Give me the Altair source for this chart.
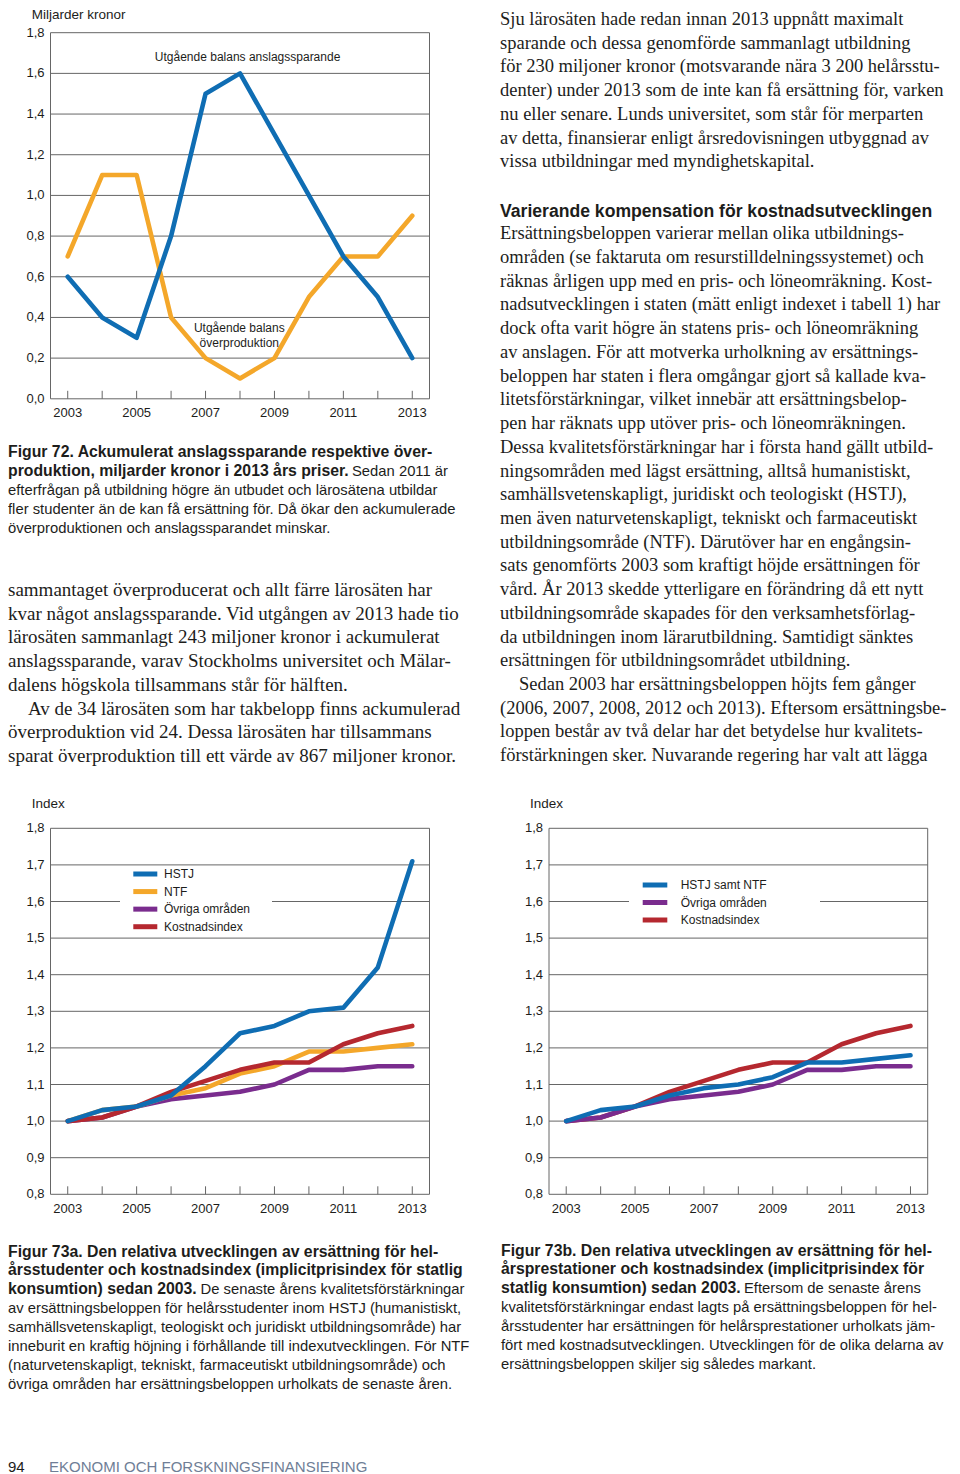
import altair as alt
import pandas as pd

# ---------------------------------------------------------------- page helpers
M = 8  # page margin of the html body


def P(v):
    return v - M


SERIF = "Liberation Serif"
SANS = "Liberation Sans"
INK = "#1d1d1b"
GRID = "#666666"
FOOT = "#6f7e96"

# ---------------------------------------------------------------- data
YEARS = [2003, 2004, 2005, 2006, 2007, 2008, 2009, 2010, 2011, 2012, 2013]
XLABEL_YEARS = [2003, 2005, 2007, 2009, 2011, 2013]

# Figur 72 (miljarder kronor)
F72_NAMES = ["Utgående balans överproduktion", "Utgående balans anslagssparande"]
F72_COLORS = ["#f4a72a", "#0f6db3"]
F72_OVERPROD = [0.70, 1.10, 1.10, 0.40, 0.20, 0.10, 0.20, 0.50, 0.70, 0.70, 0.90]
F72_SAVINGS = [0.60, 0.40, 0.30, 0.80, 1.50, 1.60, 1.30, 1.00, 0.70, 0.50, 0.20]
F72_YTICKS = [0.0, 0.2, 0.4, 0.6, 0.8, 1.0, 1.2, 1.4, 1.6, 1.8]
F72_NOTES = ["Utgående balans anslagssparande", "Utgående balans", "överproduktion"]
F72_NOTE_YEAR = [2008.22, 2007.98, 2007.98]
F72_NOTE_VALUE = [1.682, 0.346, 0.275]

# Figur 73a (index)
F73A_NAMES = ["HSTJ", "NTF", "Övriga områden", "Kostnadsindex"]
F73A_COLORS = ["#0f6db3", "#f4a72a", "#7a2c8e", "#b5282f"]
F73A_HSTJ = [1.00, 1.03, 1.04, 1.07, 1.15, 1.24, 1.26, 1.30, 1.31, 1.42, 1.71]
F73A_NTF = [1.00, 1.03, 1.04, 1.07, 1.09, 1.13, 1.15, 1.19, 1.19, 1.20, 1.21]
F73A_OVRIGA = [1.00, 1.01, 1.04, 1.06, 1.07, 1.08, 1.10, 1.14, 1.14, 1.15, 1.15]
F73A_KOSTNAD = [1.00, 1.01, 1.04, 1.08, 1.11, 1.14, 1.16, 1.16, 1.21, 1.24, 1.26]

# Figur 73b (index)
F73B_NAMES = ["HSTJ samt NTF", "Övriga områden", "Kostnadsindex"]
F73B_COLORS = ["#0f6db3", "#7a2c8e", "#b5282f"]
F73B_HSTJNTF = [1.00, 1.03, 1.04, 1.07, 1.09, 1.10, 1.12, 1.16, 1.16, 1.17, 1.18]
F73B_OVRIGA = [1.00, 1.01, 1.04, 1.06, 1.07, 1.08, 1.10, 1.14, 1.14, 1.15, 1.15]
F73B_KOSTNAD = [1.00, 1.01, 1.04, 1.08, 1.11, 1.14, 1.16, 1.16, 1.21, 1.24, 1.26]

INDEX_YTICKS = [0.8, 0.9, 1.0, 1.1, 1.2, 1.3, 1.4, 1.5, 1.6, 1.7, 1.8]

# ---------------------------------------------------------------- texts
RIGHT_P1 = [
    "Sju lärosäten hade redan innan 2013 uppnått maximalt",
    "sparande och dessa genomförde sammanlagt utbildning",
    "för 230 miljoner kronor (motsvarande nära 3 200 helårsstu-",
    "denter) under 2013 som de inte kan få ersättning för, varken",
    "nu eller senare. Lunds universitet, som står för merparten",
    "av detta, finansierar enligt årsredovisningen utbyggnad av",
    "vissa utbildningar med myndighetskapital.",
]
RIGHT_HEAD = ["Varierande kompensation för kostnadsutvecklingen"]
RIGHT_P2 = [
    "Ersättningsbeloppen varierar mellan olika utbildnings-",
    "områden (se faktaruta om resurstilldelningssystemet) och",
    "räknas årligen upp med en pris- och löneomräkning. Kost-",
    "nadsutvecklingen i staten (mätt enligt indexet i tabell 1) har",
    "dock ofta varit högre än statens pris- och löneomräkning",
    "av anslagen. För att motverka urholkning av ersättnings-",
    "beloppen har staten i flera omgångar gjort så kallade kva-",
    "litetsförstärkningar, vilket innebär att ersättningsbelop-",
    "pen har räknats upp utöver pris- och löneomräkningen.",
    "Dessa kvalitetsförstärkningar har i första hand gällt utbild-",
    "ningsområden med lägst ersättning, alltså humanistiskt,",
    "samhällsvetenskapligt, juridiskt och teologiskt (HSTJ),",
    "men även naturvetenskapligt, tekniskt och farmaceutiskt",
    "utbildningsområde (NTF). Därutöver har en engångsin-",
    "sats genomförts 2003 som kraftigt höjde ersättningen för",
    "vård. År 2013 skedde ytterligare en förändring då ett nytt",
    "utbildningsområde skapades för den verksamhetsförlag-",
    "da utbildningen inom lärarutbildning. Samtidigt sänktes",
    "ersättningen för utbildningsområdet utbildning.",
    "Sedan 2003 har ersättningsbeloppen höjts fem gånger",
    "(2006, 2007, 2008, 2012 och 2013). Eftersom ersättningsbe-",
    "loppen består av två delar har det betydelse hur kvalitets-",
    "förstärkningen sker. Nuvarande regering har valt att lägga",
]
LEFT_P = [
    "sammantaget överproducerat och allt färre lärosäten har",
    "kvar något anslagssparande. Vid utgången av 2013 hade tio",
    "lärosäten sammanlagt 243 miljoner kronor i ackumulerat",
    "anslagssparande, varav Stockholms universitet och Mälar-",
    "dalens högskola tillsammans står för hälften.",
    "Av de 34 lärosäten som har takbelopp finns ackumulerad",
    "överproduktion vid 24. Dessa lärosäten har tillsammans",
    "sparat överproduktion till ett värde av 867 miljoner kronor.",
]
CAP72_BOLD = [
    "Figur 72. Ackumulerat anslagssparande respektive över-",
    "produktion, miljarder kronor i 2013 års priser.",
]
CAP72_REG = [
    "Sedan 2011 är",
    "efterfrågan på utbildning högre än utbudet och lärosätena utbildar",
    "fler studenter än de kan få ersättning för. Då ökar den ackumulerade",
    "överproduktionen och anslagssparandet minskar.",
]
CAP73A_BOLD = [
    "Figur 73a. Den relativa utvecklingen av ersättning för hel-",
    "årsstudenter och kostnadsindex (implicitprisindex för statlig",
    "konsumtion) sedan 2003.",
]
CAP73A_REG = [
    "De senaste årens kvalitetsförstärkningar",
    "av ersättningsbeloppen för helårsstudenter inom HSTJ (humanistiskt,",
    "samhällsvetenskapligt, teologiskt och juridiskt utbildningsområde) har",
    "inneburit en kraftig höjning i förhållande till indexutvecklingen. För NTF",
    "(naturvetenskapligt, tekniskt, farmaceutiskt utbildningsområde) och",
    "övriga områden har ersättningsbeloppen urholkats de senaste åren.",
]
CAP73B_BOLD = [
    "Figur 73b. Den relativa utvecklingen av ersättning för hel-",
    "årsprestationer och kostnadsindex (implicitprisindex för",
    "statlig konsumtion) sedan 2003.",
]
CAP73B_REG = [
    "Eftersom de senaste årens",
    "kvalitetsförstärkningar endast lagts på ersättningsbeloppen för hel-",
    "årsstudenter har ersättningen för helårsprestationer urholkats jäm-",
    "fört med kostnadsutvecklingen. Utvecklingen för de olika delarna av",
    "ersättningsbeloppen skiljer sig således markant.",
]
FOOT_NUM = ["94"]
FOOT_TXT = ["EKONOMI OCH FORSKNINGSFINANSIERING"]


# ---------------------------------------------------------------- builders
def panel(series, names, colors, order, x_px, y_px, ydomain, yticks, xlab_dy, notes=None):
    xs = alt.Scale(domain=[2002.5, 2013.5], range=[P(x_px[0]), P(x_px[1])], nice=False, zero=False)
    ys = alt.Scale(domain=ydomain, range=[P(y_px[0]), P(y_px[1])], nice=False, zero=False)
    cs = alt.Scale(domain=names, range=colors)

    grid_df = pd.DataFrame({"v": yticks, "a": 2002.5, "b": 2013.5})
    grid = alt.Chart(grid_df).mark_rule(color=GRID, strokeWidth=1).encode(
        x=alt.X("a:Q", scale=xs, axis=None), x2="b:Q",
        y=alt.Y("v:Q", scale=ys, axis=None))
    side_df = pd.DataFrame({"a": [2002.5, 2013.5], "lo": ydomain[0], "hi": ydomain[1]})
    sides = alt.Chart(side_df).mark_rule(color=GRID, strokeWidth=1).encode(
        x=alt.X("a:Q", scale=xs, axis=None),
        y=alt.Y("lo:Q", scale=ys, axis=None), y2="hi:Q")
    tick_df = pd.DataFrame({"year": YEARS, "lo": ydomain[0]})
    ticks = alt.Chart(tick_df).mark_rule(color=GRID, strokeWidth=1, y2Offset=-8).encode(
        x=alt.X("year:Q", scale=xs, axis=None),
        y=alt.Y("lo:Q", scale=ys, axis=None), y2="lo:Q")

    lines = []
    for name in order:
        df = pd.DataFrame({"year": YEARS, "value": series[name], "serie": name})
        lines.append(
            alt.Chart(df).mark_line(strokeWidth=4.6, strokeJoin="round", strokeCap="round").encode(
                x=alt.X("year:Q", scale=xs, axis=None),
                y=alt.Y("value:Q", scale=ys, axis=None),
                color=alt.Color("serie:N", scale=cs, legend=None)))

    ylab_df = pd.DataFrame({"v": yticks, "a": 2002.5,
                            "lab": [f"{t:.1f}".replace(".", ",") for t in yticks]})
    ylabs = alt.Chart(ylab_df).mark_text(align="right", baseline="middle", dx=-6,
                                         font=SANS, fontSize=13, color=INK).encode(
        x=alt.X("a:Q", scale=xs, axis=None), y=alt.Y("v:Q", scale=ys, axis=None), text="lab:N")
    xl_df = pd.DataFrame({"year": XLABEL_YEARS, "lo": ydomain[0],
                          "lab": [str(y) for y in XLABEL_YEARS]})
    xlabs = alt.Chart(xl_df).mark_text(align="center", baseline="middle", dy=xlab_dy,
                                       font=SANS, fontSize=13, color=INK).encode(
        x=alt.X("year:Q", scale=xs, axis=None), y=alt.Y("lo:Q", scale=ys, axis=None), text="lab:N")
    layers = [grid, sides, ticks] + lines + [ylabs, xlabs]
    if notes is not None:
        ndf = pd.DataFrame({"t": notes[0], "year": notes[1], "value": notes[2]})
        layers.append(alt.Chart(ndf).mark_text(align="center", baseline="middle", font=SANS,
                                               fontSize=12, color=INK).encode(
            x=alt.X("year:Q", scale=xs, axis=None), y=alt.Y("value:Q", scale=ys, axis=None),
            text="t:N"))
    return alt.layer(*layers)


def legend(names, colors, box, sw_x, lab_x, y0, step):
    bx = alt.Chart(pd.DataFrame({"k": [0]})).mark_rect(color="white").encode(
        x=alt.value(P(box[0])), x2=alt.value(P(box[1])),
        y=alt.value(P(box[2])), y2=alt.value(P(box[3])))
    df = pd.DataFrame({"serie": names, "ly": [P(y0 + i * step) for i in range(len(names))]})
    cs = alt.Scale(domain=names, range=colors)
    sw = alt.Chart(df).mark_rule(strokeWidth=5).encode(
        x=alt.value(P(sw_x[0])), x2=alt.value(P(sw_x[1])),
        y=alt.Y("ly:Q", scale=None), color=alt.Color("serie:N", scale=cs, legend=None))
    labs = alt.Chart(df).mark_text(align="left", baseline="middle", font=SANS, fontSize=12,
                                   color=INK).encode(
        x=alt.value(P(lab_x)), y=alt.Y("ly:Q", scale=None), text="serie:N")
    return alt.layer(bx, sw, labs)


def text_block(lines, x, y0, step, size, font=SERIF, weight="normal", color=INK,
               first_row=0, first_x=None, indent_rows=(), indent_x=None):
    xs_, ys_ = [], []
    for i in range(len(lines)):
        row = first_row + i
        xx = x
        if i == 0 and first_x is not None:
            xx = first_x
        if row in indent_rows:
            xx = indent_x
        xs_.append(P(xx))
        ys_.append(P(y0 + row * step))
    df = pd.DataFrame({"t": lines, "px": xs_, "py": ys_})
    return alt.Chart(df).mark_text(align="left", baseline="alphabetic", font=font, fontSize=size,
                                   fontWeight=weight, color=color).encode(
        x=alt.X("px:Q", scale=None), y=alt.Y("py:Q", scale=None), text="t:N")


# ---------------------------------------------------------------- panels
p1 = panel({F72_NAMES[0]: F72_OVERPROD, F72_NAMES[1]: F72_SAVINGS}, F72_NAMES, F72_COLORS,
           [F72_NAMES[0], F72_NAMES[1]], (50.5, 429.5), (398.8, 32.7), [0.0, 1.8], F72_YTICKS, 14,
           notes=(F72_NOTES, F72_NOTE_YEAR, F72_NOTE_VALUE))
p2 = panel({"HSTJ": F73A_HSTJ, "NTF": F73A_NTF, "Övriga områden": F73A_OVRIGA,
            "Kostnadsindex": F73A_KOSTNAD}, F73A_NAMES, F73A_COLORS,
           ["Övriga områden", "NTF", "Kostnadsindex", "HSTJ"],
           (50.5, 429.5), (1194.3, 828.3), [0.8, 1.8], INDEX_YTICKS, 15)
p3 = panel({"HSTJ samt NTF": F73B_HSTJNTF, "Övriga områden": F73B_OVRIGA,
            "Kostnadsindex": F73B_KOSTNAD}, F73B_NAMES, F73B_COLORS,
           ["Kostnadsindex", "Övriga områden", "HSTJ samt NTF"],
           (549.0, 927.7), (1194.3, 828.3), [0.8, 1.8], INDEX_YTICKS, 15)

leg2 = legend(F73A_NAMES, F73A_COLORS, (120, 272, 866, 936), (133.3, 157.3), 164, 874, 17.57)
leg3 = legend(F73B_NAMES, F73B_COLORS, (629, 820, 868, 935), (642.7, 667.3), 680.7, 885, 17.5)

LH = 23.72
LX = 8        # left column text start (page margin)
CAP_R = 14.8  # caption regular size
CAP_B = 15.8  # caption bold size
texts = [
    text_block(["Miljarder kronor"], 31.7, 19, 0, 13.5, font=SANS),
    text_block(["Index"], 31.7, 807.5, 0, 13.5, font=SANS),
    text_block(["Index"], 530, 807.5, 0, 13.5, font=SANS),
    text_block(RIGHT_P1, 500, 25, LH, 18.5),
    text_block(RIGHT_HEAD, 500, 216.5, 0, 17.6, font=SANS, weight="bold"),
    text_block(RIGHT_P2, 500, 239.3, LH, 18.5, indent_rows=(19,), indent_x=519),
    text_block(LEFT_P, LX, 596, LH, 19, indent_rows=(5,), indent_x=LX + 20),
    text_block(CAP72_BOLD, LX, 457.3, 18.85, CAP_B, font=SANS, weight="bold"),
    text_block(CAP72_REG, LX, 457.3, 18.85, CAP_R, font=SANS, first_row=1, first_x=352),
    text_block(CAP73A_BOLD, LX, 1256.5, 18.95, CAP_B, font=SANS, weight="bold"),
    text_block(CAP73A_REG, LX, 1256.5, 18.95, CAP_R, font=SANS, first_row=2, first_x=200.5),
    text_block(CAP73B_BOLD, 501, 1255.5, 18.95, CAP_B, font=SANS, weight="bold"),
    text_block(CAP73B_REG, 501, 1255.5, 18.95, CAP_R, font=SANS, first_row=2, first_x=744),
    text_block(FOOT_NUM, LX, 1472, 0, 15, font=SANS),
    text_block(FOOT_TXT, 49, 1472, 0, 15, font=SANS, color=FOOT),
]

chart = alt.layer(p1, p2, p3, leg2, leg3, *texts).resolve_scale(
    x="independent", y="independent", color="independent"
).properties(
    width=944, height=1466, padding=0, background="white",
    autosize=alt.AutoSizeParams(type="none"),
).configure_view(stroke=None)

chart.save("out.html", embed_options={"renderer": "svg", "actions": False})
